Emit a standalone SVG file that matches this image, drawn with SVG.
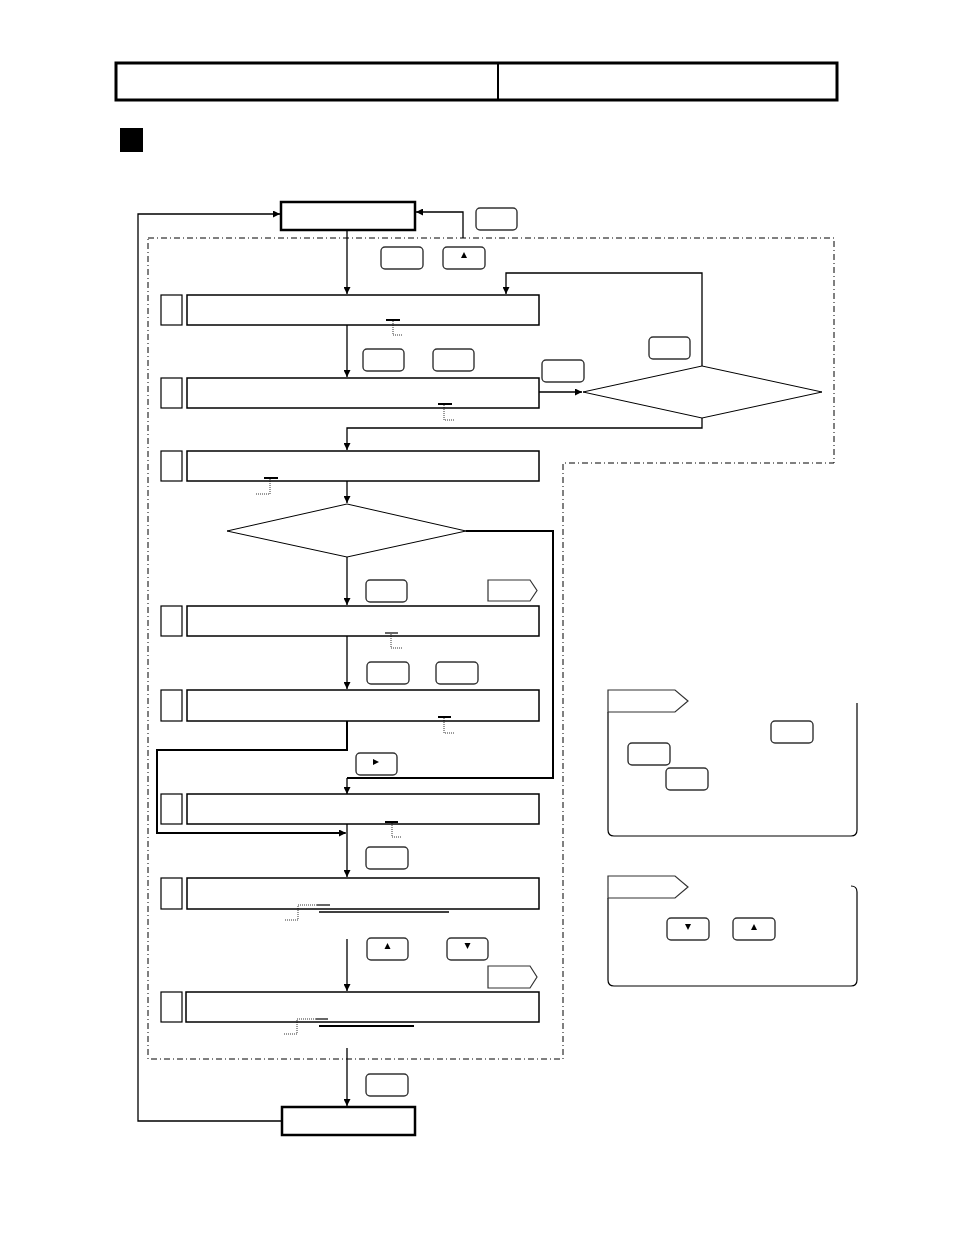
<svg xmlns="http://www.w3.org/2000/svg" width="954" height="1235" viewBox="0 0 954 1235">
<style>
.box{fill:#fff;stroke:#000;stroke-width:1.5}
.tbox{fill:#fff;stroke:#000;stroke-width:2.5}
.sq{fill:#fff;stroke:#000;stroke-width:1.2}
.btn{fill:#fff;stroke:#333;stroke-width:1.4}
.tag{fill:#fff;stroke:#333;stroke-width:1.2}
.ln{fill:none;stroke:#000;stroke-width:1.3}
.thk{fill:none;stroke:#000;stroke-width:2}
.dot{fill:none;stroke:#000;stroke-width:0.8;stroke-dasharray:1 1}
.dd{fill:none;stroke:#000;stroke-width:1;stroke-dasharray:6 3 1 3}
.dia{fill:#fff;stroke:#000;stroke-width:1}
.pan{fill:none;stroke:#000;stroke-width:1.2}
.tri{fill:#000}
</style>
<defs>
<marker id="ah" viewBox="0 0 10 10" refX="10" refY="5" markerWidth="7" markerHeight="7" markerUnits="userSpaceOnUse" orient="auto">
<path d="M0,0 L10,5 L0,10 z" fill="#000"/>
</marker>
</defs>

<g id="header">
<rect x="116" y="63" width="721" height="37" fill="none" stroke="#000" stroke-width="3"/>
<line x1="498" y1="63" x2="498" y2="100" stroke="#000" stroke-width="2"/>
<rect x="120" y="128" width="23" height="24" fill="#000"/>
</g>

<g id="region">
<path class="dd" d="M148,238 H834 V463 H563 V1059 H148 Z"/>
</g>

<g id="connectors">
<path class="ln" d="M347,230 V294" marker-end="url(#ah)"/>
<path class="ln" d="M463,238 V212 H416" marker-end="url(#ah)"/>
<path class="ln" d="M702,366 V273 H506 V294" marker-end="url(#ah)"/>
<path class="ln" d="M347,325 V377" marker-end="url(#ah)"/>
<path class="ln" d="M539,392 H582" marker-end="url(#ah)"/>
<path class="ln" d="M702,418 V428 H347 V450" marker-end="url(#ah)"/>
<path class="ln" d="M347,481 V503" marker-end="url(#ah)"/>
<path class="ln" d="M347,557 V605" marker-end="url(#ah)"/>
<path class="thk" d="M466,531 H553 V778 H347"/>
<path class="ln" d="M347,778 V794" marker-end="url(#ah)"/>
<path class="ln" d="M347,636 V689" marker-end="url(#ah)"/>
<path class="thk" d="M347,721 V750 H157 V833 H345"/>
<path class="ln" d="M330,833 H346" marker-end="url(#ah)"/>
<path class="ln" d="M347,824 V877" marker-end="url(#ah)"/>
<path class="ln" d="M347,939 V991" marker-end="url(#ah)"/>
<path class="ln" d="M347,1048 V1106" marker-end="url(#ah)"/>
<path class="ln" d="M282,1121 H138 V214 H280" marker-end="url(#ah)"/>
</g>

<g id="start"><rect class="tbox" x="281" y="202" width="134" height="28"/></g>
<g id="end"><rect class="tbox" x="282" y="1107" width="133" height="28"/></g>

<g id="btn-top">
<rect class="btn" x="476" y="208" width="41" height="22" rx="4"/>
<rect class="btn" x="381" y="247" width="42" height="22" rx="4"/>
<rect class="btn" x="443" y="247" width="42" height="22" rx="4"/>
<path class="tri" d="M464,252 L467,258 L461,258 Z"/>
</g>

<g id="step1">
<rect class="sq" x="161" y="295" width="21" height="30"/>
<rect class="box" x="187" y="295" width="352" height="30"/>
<line x1="386" y1="320" x2="400" y2="320" stroke="#000" stroke-width="2"/>
<path class="dot" d="M393,321 V335 H402"/>
</g>

<g id="btn-s2">
<rect class="btn" x="363" y="349" width="41" height="22" rx="4"/>
<rect class="btn" x="433" y="349" width="41" height="22" rx="4"/>
<rect class="btn" x="542" y="360" width="42" height="22" rx="4"/>
<rect class="btn" x="649" y="337" width="41" height="22" rx="4"/>
</g>

<g id="step2">
<rect class="sq" x="161" y="378" width="21" height="30"/>
<rect class="box" x="187" y="378" width="352" height="30"/>
<line x1="438" y1="404" x2="452" y2="404" stroke="#000" stroke-width="2"/>
<path class="dot" d="M444,405 V420 H455"/>
</g>

<g id="decision1"><path class="dia" d="M583,392 L702,366 L822,392 L702,418 Z"/></g>

<g id="step3">
<rect class="sq" x="161" y="451" width="21" height="30"/>
<rect class="box" x="187" y="451" width="352" height="30"/>
<line x1="264" y1="478" x2="278" y2="478" stroke="#000" stroke-width="2"/>
<path class="dot" d="M270,479 V494 H256"/>
</g>

<g id="decision2"><path class="dia" d="M227,531 L347,504 L466,531 L347,557 Z"/></g>

<g id="btn-s4">
<rect class="btn" x="366" y="580" width="41" height="22" rx="4"/>
<path class="tag" d="M488,580 H530 L537,590.5 L530,601 H488 Z"/>
</g>

<g id="step4">
<rect class="sq" x="161" y="606" width="21" height="30"/>
<rect class="box" x="187" y="606" width="352" height="30"/>
<line x1="385" y1="633" x2="398" y2="633" stroke="#000" stroke-width="1.2"/>
<path class="dot" d="M391,634 V648 H402"/>
</g>

<g id="btn-s5">
<rect class="btn" x="367" y="662" width="42" height="22" rx="4"/>
<rect class="btn" x="436" y="662" width="42" height="22" rx="4"/>
</g>

<g id="step5">
<rect class="sq" x="161" y="690" width="21" height="31"/>
<rect class="box" x="187" y="690" width="352" height="31"/>
<line x1="438" y1="717" x2="451" y2="717" stroke="#000" stroke-width="2"/>
<path class="dot" d="M444,718 V733 H455"/>
</g>

<g id="btn-s6">
<rect class="btn" x="356" y="753" width="41" height="22" rx="4"/>
<path class="tri" d="M373,759 L379,762 L373,765 Z"/>
</g>

<g id="step6">
<rect class="sq" x="161" y="794" width="21" height="30"/>
<rect class="box" x="187" y="794" width="352" height="30"/>
<line x1="385" y1="822" x2="398" y2="822" stroke="#000" stroke-width="2"/>
<path class="dot" d="M392,823 V837 H402"/>
</g>

<g id="btn-s7"><rect class="btn" x="366" y="847" width="42" height="22" rx="4"/></g>

<g id="step7">
<rect class="sq" x="161" y="878" width="21" height="31"/>
<rect class="box" x="187" y="878" width="352" height="31"/>
<line x1="317" y1="905" x2="330" y2="905" stroke="#000" stroke-width="1.2"/>
<path class="dot" d="M317,905 H298 V920 H284"/>
<line x1="319" y1="912" x2="449" y2="912" stroke="#000" stroke-width="1.5"/>
</g>

<g id="btn-s8">
<rect class="btn" x="367" y="938" width="41" height="22" rx="4"/>
<path class="tri" d="M387.5,943 L390.5,949 L384.5,949 Z"/>
<rect class="btn" x="447" y="938" width="41" height="22" rx="4"/>
<path class="tri" d="M464.5,943 L470.5,943 L467.5,949 Z"/>
<path class="tag" d="M488,966 H530 L537,977 L530,988 H488 Z"/>
</g>

<g id="step8">
<rect class="sq" x="161" y="992" width="21" height="30"/>
<rect class="box" x="186" y="992" width="353" height="30"/>
<line x1="316" y1="1019" x2="328" y2="1019" stroke="#000" stroke-width="1.2"/>
<path class="dot" d="M316,1019 H297 V1034 H283"/>
<line x1="319" y1="1026" x2="414" y2="1026" stroke="#000" stroke-width="2"/>
</g>

<g id="btn-end"><rect class="btn" x="366" y="1074" width="42" height="22" rx="4"/></g>

<g id="note1">
<path class="pan" d="M608,712 V830 Q608,836 614,836 H851 Q857,836 857,830 V703"/>
<path class="tag" d="M608,690 H675 L688,701 L675,712 H608 Z"/>
<rect class="btn" x="771" y="721" width="42" height="22" rx="4"/>
<rect class="btn" x="628" y="743" width="42" height="22" rx="4"/>
<rect class="btn" x="666" y="768" width="42" height="22" rx="4"/>
</g>

<g id="note2">
<path class="pan" d="M608,898 V980 Q608,986 614,986 H851 Q857,986 857,980 V892 Q857,886 851,886"/>
<path class="tag" d="M608,876 H675 L688,887 L675,898 H608 Z"/>
<rect class="btn" x="667" y="918" width="42" height="22" rx="4"/>
<path class="tri" d="M685,924 L691,924 L688,930 Z"/>
<rect class="btn" x="733" y="918" width="42" height="22" rx="4"/>
<path class="tri" d="M754,924 L757,930 L751,930 Z"/>
</g>
</svg>
